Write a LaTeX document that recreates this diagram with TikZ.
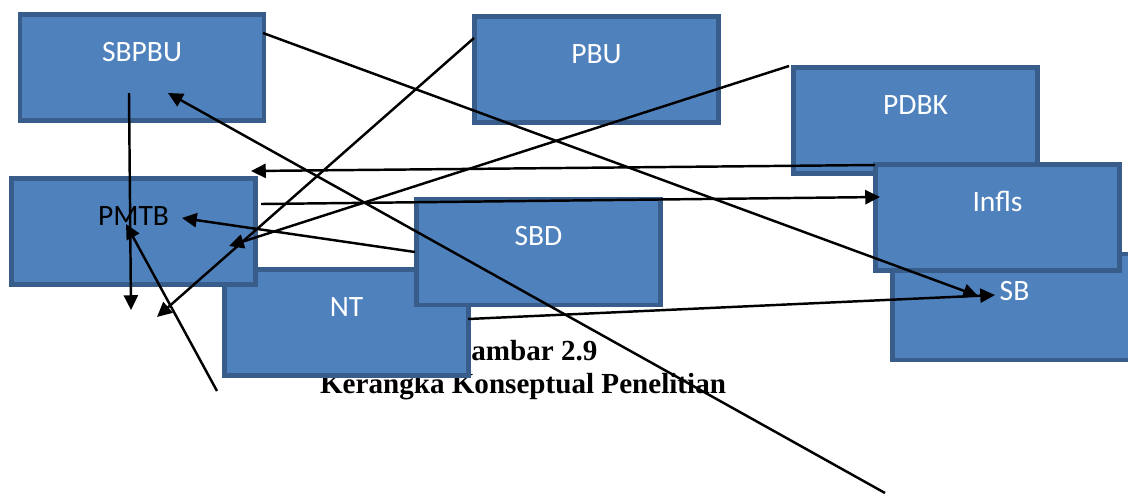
\documentclass[tikz,border=0pt]{standalone}
\usepackage{fontspec}
\setmainfont{Liberation Serif}
\newfontfamily\boxfont{Carlito}
\usepackage{tikz}
\usetikzlibrary{arrows.meta}
\usepackage{xcolor}
\definecolor{boxfill}{HTML}{4F81BD}
\definecolor{boxline}{HTML}{385D8A}

\begin{document}
\begin{tikzpicture}[x=0.025cm, y=-0.025cm,
	box/.style={draw=boxline, fill=boxfill, line width=3.5pt, inner sep=0pt,
		minimum width=6.1cm, minimum height=2.65cm, text=white,
		font=\boxfont\fontsize{21}{25}\selectfont, text height=0.475cm, text depth=0.8cm},
	capt/.style={anchor=base, font=\bfseries\fontsize{20.7}{24}\selectfont},
	conn/.style={line width=1.75pt, -{Triangle[length=10.5pt, width=10pt]}}]
	\useasboundingbox (0,0) rectangle (1128,495);
	\node[capt] (gambar) at (523,360) {Gambar 2.9};
	\node[capt] (judul) at (523,393) {Kerangka Konseptual Penelitian};
	\node[box] (sbpbu) at (142,67.5) {SBPBU};
	\node[box] (pbu) at (596.5,69.5) {PBU};
	\node[box] (pdbk) at (915.5,120.5) {PDBK};
	\node[box] (sb) at (1014.5,307) {SB};
	\node[box] (infls) at (997.5,217.5) {Infls};
	\node[box] (nt) at (346.5,322.5) {NT};
	\node[box, text=black] (pmtb) at (133.5,231.5) {PMTB};
	\node[box] (sbd) at (538.5,252) {SBD};
	\coordinate (sbpbuA) at (129,93);
	\coordinate (sbpbuB) at (263,33);
	\coordinate (sbpbuC) at (168,93);
	\coordinate (pbuA) at (474,38);
	\coordinate (pdbkA) at (789,66);
	\coordinate (inflsA) at (875,165);
	\coordinate (inflsB) at (880,197);
	\coordinate (pmtbA) at (261,204);
	\coordinate (pmtbB) at (182,218);
	\coordinate (pmtbC) at (126,224);
	\coordinate (pmtbD) at (229,246);
	\coordinate (sbdA) at (415,252);
	\coordinate (ntA) at (468,319);
	\coordinate (sbA) at (978,296);
	\coordinate (sbB) at (995,295);
	\coordinate (endA) at (131,310);
	\coordinate (endB) at (157,317);
	\coordinate (endC) at (885,493);
	\coordinate (endD) at (217,391);
	\coordinate (endE) at (251,171);
	\draw[conn] (sbpbuA) -- (endA);
	\draw[conn] (sbpbuB) -- (sbA);
	\draw[conn] (pbuA) -- (endB);
	\draw[conn] (pdbkA) -- (pmtbD);
	\draw[conn] (inflsA) -- (endE);
	\draw[conn] (pmtbA) -- (inflsB);
	\draw[conn] (sbdA) -- (pmtbB);
	\draw[conn] (endC) -- (sbpbuC);
	\draw[conn] (ntA) -- (sbB);
	\draw[conn] (endD) -- (pmtbC);
\end{tikzpicture}
\end{document}
